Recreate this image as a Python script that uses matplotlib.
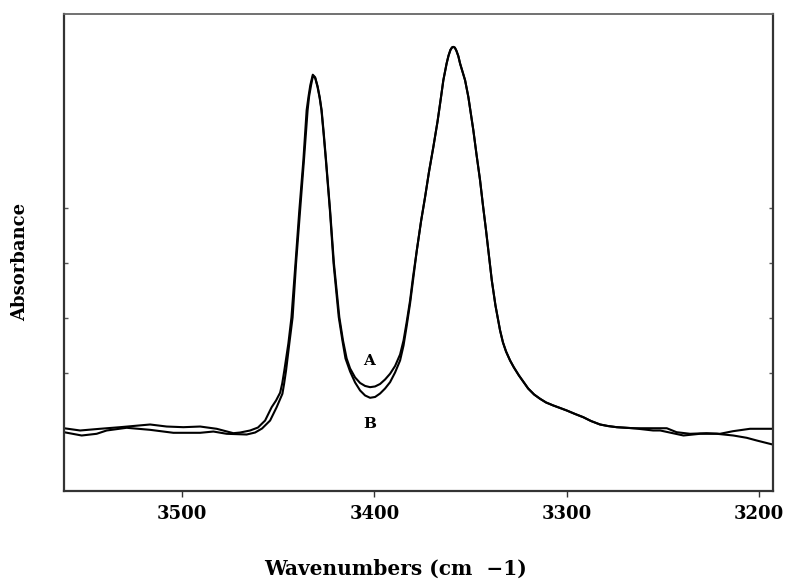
import matplotlib
matplotlib.use("Agg")
import matplotlib.pyplot as plt

# spectrum A: baseline, first band and valley (wavenumber cm-1, absorbance a.u.)
wn_a_left = [3561.4, 3553.0, 3542.6, 3532.2, 3516.6, 3508.0, 3499.3, 3490.6, 3482.0,
             3473.3, 3469.8, 3464.6, 3460.5, 3456.8, 3453.4, 3451.1, 3449.0, 3447.9,
             3446.8, 3444.7, 3443.1, 3441.0, 3439.0, 3436.9, 3435.2, 3434.2, 3433.3,
             3432.0, 3430.8, 3429.5, 3428.4, 3427.4, 3426.3, 3425.1, 3423.0, 3421.0,
             3418.2, 3416.3, 3414.4, 3412.6, 3410.0, 3407.4, 3404.8, 3402.2, 3399.6,
             3397.0, 3394.4, 3391.8, 3389.2, 3386.6, 3384.8, 3383.2, 3381.4, 3379.9]
abs_a_left = [0.2005, 0.1964, 0.1995, 0.2024, 0.2073, 0.2036, 0.2024, 0.2036, 0.1995,
              0.1915, 0.1927, 0.1964, 0.2018, 0.2145, 0.2387, 0.2509, 0.2650, 0.2818,
              0.3055, 0.3545, 0.4018, 0.5000, 0.5964, 0.6873, 0.7782, 0.8036, 0.8236,
              0.8427, 0.8382, 0.8218, 0.8018, 0.7782, 0.7364, 0.6873, 0.5964, 0.5000,
              0.4024, 0.3600, 0.3273, 0.3091, 0.2927, 0.2827, 0.2773, 0.2751, 0.2764,
              0.2809, 0.2891, 0.2995, 0.3136, 0.3345, 0.3600, 0.3927, 0.4327, 0.4745]

# spectrum B: baseline, first band and valley
wn_b_left = [3561.4, 3552.2, 3544.4, 3539.2, 3528.8, 3516.6, 3504.5, 3490.6, 3483.7,
             3476.8, 3466.4, 3462.0, 3458.4, 3454.2, 3450.8, 3447.8, 3446.9, 3445.9,
             3444.2, 3442.5, 3440.7, 3438.6, 3436.6, 3434.7, 3433.9, 3432.9, 3431.9,
             3430.7, 3429.5, 3428.4, 3427.5, 3426.4, 3425.2, 3423.1, 3421.2, 3418.5,
             3416.6, 3415.0, 3412.6, 3410.0, 3407.4, 3404.8, 3402.2, 3399.6, 3397.0,
             3394.4, 3391.8, 3389.2, 3386.6, 3384.8, 3383.2, 3381.4, 3379.8]
abs_b_left = [0.1933, 0.1873, 0.1904, 0.1964, 0.2013, 0.1976, 0.1922, 0.1922, 0.1945,
              0.1904, 0.1891, 0.1927, 0.2000, 0.2145, 0.2387, 0.2631, 0.2818, 0.3055,
              0.3545, 0.4018, 0.5000, 0.5964, 0.6873, 0.7782, 0.8036, 0.8236, 0.8409,
              0.8364, 0.8200, 0.8000, 0.7782, 0.7364, 0.6873, 0.5964, 0.5000, 0.4024,
              0.3600, 0.3273, 0.3036, 0.2836, 0.2691, 0.2600, 0.2558, 0.2573, 0.2636,
              0.2727, 0.2842, 0.3018, 0.3236, 0.3509, 0.3855, 0.4273, 0.4709]

# second band, where both spectra overlap
wn_band2 = [3377.9, 3375.7, 3373.6, 3371.6, 3369.3, 3367.1, 3365.3, 3364.1, 3362.4,
            3361.4, 3360.4, 3359.6, 3358.9, 3358.1, 3357.3, 3356.3, 3355.4, 3352.8,
            3351.1, 3348.5, 3346.8, 3345.0, 3343.5, 3341.9, 3340.4, 3338.9, 3337.0,
            3334.6, 3333.1, 3331.5, 3329.4, 3327.4, 3324.8, 3322.2, 3320.0, 3316.9,
            3313.8, 3310.7, 3306.9, 3303.4, 3299.9, 3295.6, 3291.3, 3287.3, 3282.6,
            3278.5, 3273.9, 3265.3]
abs_band2 = [0.5236, 0.5764, 0.6205, 0.6655, 0.7115, 0.7582, 0.8024, 0.8327, 0.8631,
             0.8775, 0.8878, 0.8922, 0.8933, 0.8918, 0.8862, 0.8764, 0.8631, 0.8327,
             0.8024, 0.7418, 0.6964, 0.6509, 0.6055, 0.5600, 0.5145, 0.4691, 0.4236,
             0.3782, 0.3564, 0.3400, 0.3236, 0.3109, 0.2964, 0.2836, 0.2727, 0.2618,
             0.2540, 0.2473, 0.2418, 0.2373, 0.2327, 0.2264, 0.2205, 0.2136, 0.2073,
             0.2045, 0.2024, 0.2005]

# right-hand baselines
wn_a_right = [3256.6, 3247.9, 3242.8, 3235.8, 3227.2, 3220.2, 3213.5, 3204.6, 3192.8]
abs_a_right = [0.2005, 0.2005, 0.1933, 0.1904, 0.1915, 0.1904, 0.1951, 0.1995, 0.1995]
wn_b_right = [3255.0, 3251.3, 3239.2, 3230.6, 3221.9, 3213.3, 3206.3, 3201.1, 3192.8]
abs_b_right = [0.1964, 0.1964, 0.1873, 0.1904, 0.1904, 0.1873, 0.1831, 0.1782, 0.1709]

x_ticks = [3500, 3400, 3300, 3200]
y_ticks = [0.3, 0.4, 0.5, 0.6]
curve_labels = [("A", 3402.7, 0.322), ("B", 3402.2, 0.209)]

serif = ["DejaVu Serif"]

fig = plt.figure(figsize=(7.88, 5.81), dpi=100)
ax = fig.add_axes([0.0812, 0.1554, 0.8994, 0.8205])

ax.plot(wn_a_left + wn_band2 + wn_a_right, abs_a_left + abs_band2 + abs_a_right,
        color="black", lw=1.5)
ax.plot(wn_b_left + wn_band2 + wn_b_right, abs_b_left + abs_band2 + abs_b_right,
        color="black", lw=1.5)

for text, x, y in curve_labels:
    ax.text(x, y, text, ha="center", va="center", fontsize=11,
            fontweight="bold", family=serif)

ax.set_xlim(3561.4, 3192.8)
ax.set_ylim(0.087, 0.953)

ax.set_xticks(x_ticks)
ax.set_xticklabels([str(t) for t in x_ticks], fontsize=13, fontweight="bold",
                   family=serif)
ax.set_yticks(y_ticks)
ax.set_yticklabels([])
ax.tick_params(axis="x", direction="out", length=4, width=1, pad=6,
               color="#333333")
ax.tick_params(axis="y", direction="in", length=3, width=1, left=True,
               right=True, color="#555555")

for side in ["left", "bottom", "right"]:
    ax.spines[side].set_linewidth(1.6)
    ax.spines[side].set_color("#333333")
ax.spines["top"].set_linewidth(1.3)
ax.spines["top"].set_color("#666666")

fig.text(0.5025, 1 - 569 / 581, "Wavenumbers (cm  \u22121)", ha="center",
         va="center", fontsize=14.5, fontweight="bold", family=serif)
fig.text(20 / 788, 1 - 262 / 581, "Absorbance", ha="center", va="center",
         rotation=90, fontsize=13, fontweight="bold", family=serif)

fig.savefig("out.png", dpi=100)
